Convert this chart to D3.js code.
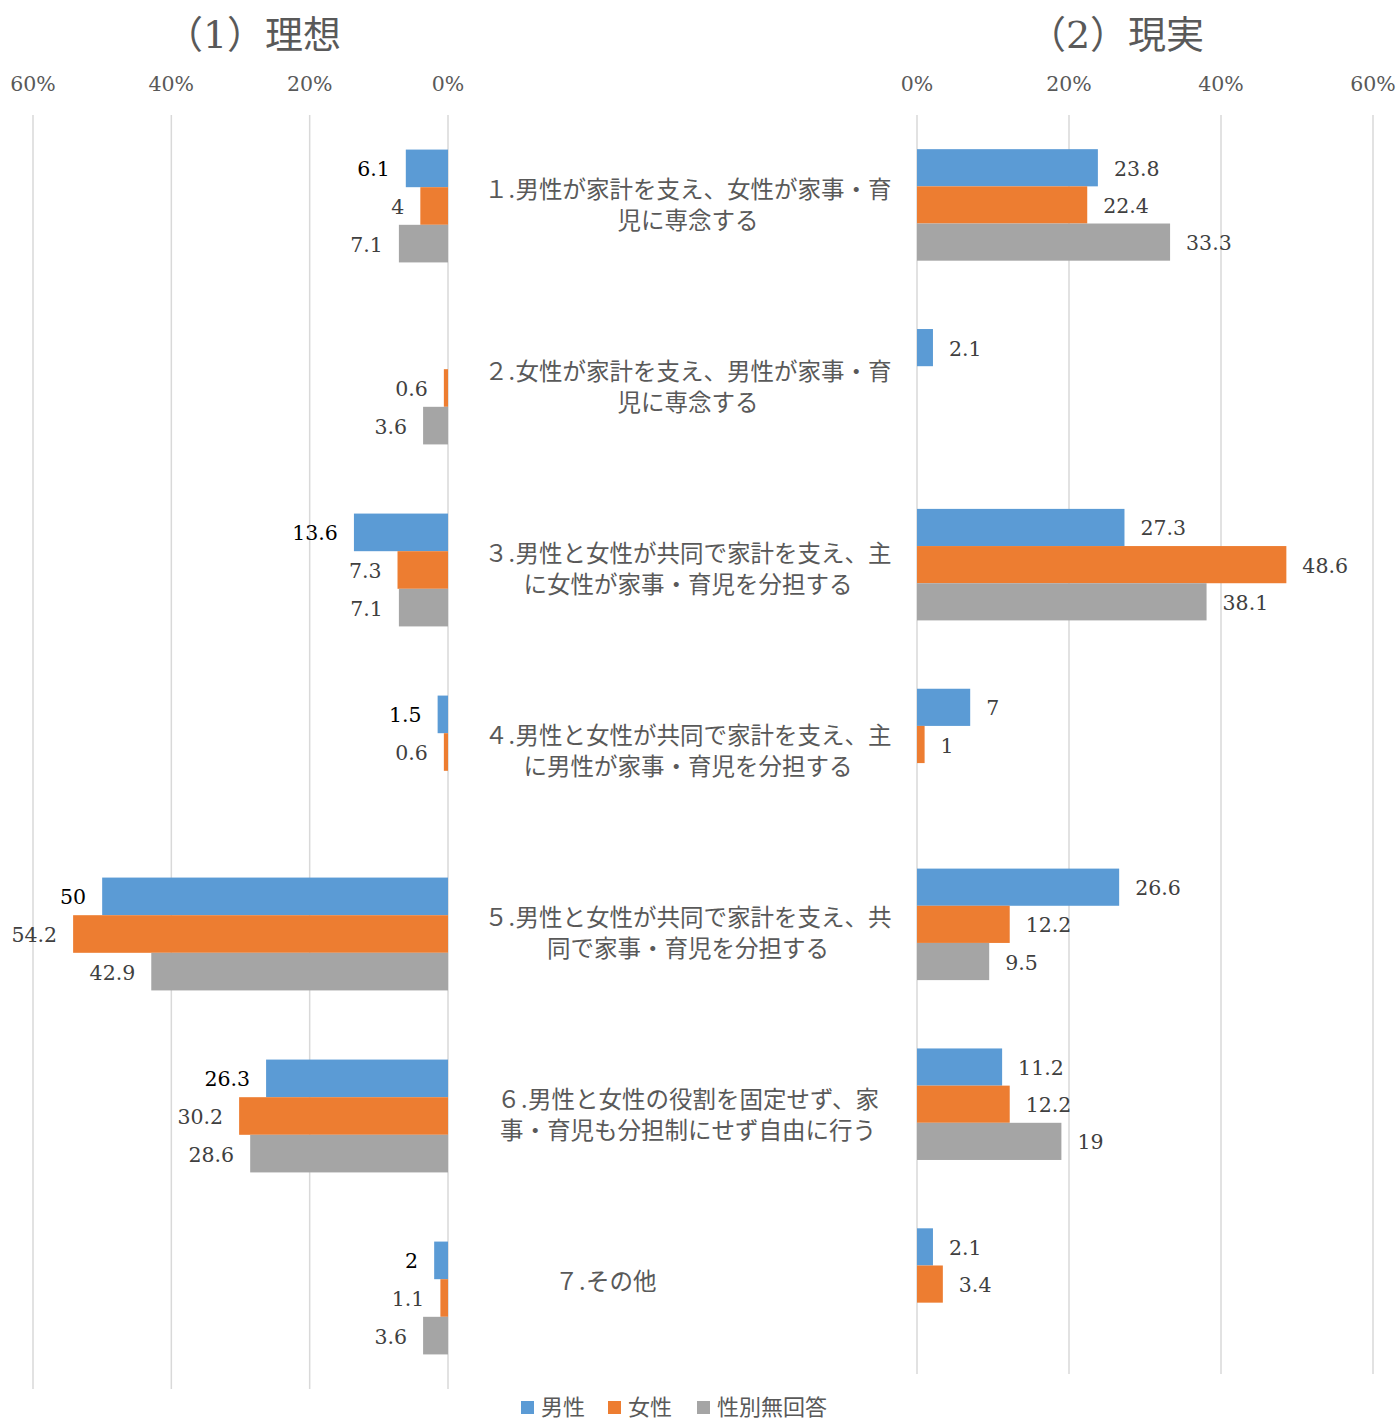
<!DOCTYPE html>
<html>
<head>
<meta charset="utf-8">
<script src="https://cdn.jsdelivr.net/npm/d3@7/dist/d3.min.js"></script>
<style>
  body { margin: 0; background: #fff; }
  svg text { font-family: "DejaVu Serif", "Noto Sans CJK JP", serif; }
</style>
</head>
<body>
<div id="viz"></div>
<script>
const categories = [
    ['１.男性が家計を支え、女性が家事・育', '児に専念する'],
    ['２.女性が家計を支え、男性が家事・育', '児に専念する'],
    ['３.男性と女性が共同で家計を支え、主', 'に女性が家事・育児を分担する'],
    ['４.男性と女性が共同で家計を支え、主', 'に男性が家事・育児を分担する'],
    ['５.男性と女性が共同で家計を支え、共', '同で家事・育児を分担する'],
    ['６.男性と女性の役割を固定せず、家', '事・育児も分担制にせず自由に行う'],
    ['７.その他　　　　　　　', '']
];
const seriesNames = ['男性', '女性', '性別無回答'];
const idealMale   = [6.1, null, 13.6, 1.5, 50, 26.3, 2];
const idealFemale = [4, 0.6, 7.3, 0.6, 54.2, 30.2, 1.1];
const idealNone   = [7.1, 3.6, 7.1, null, 42.9, 28.6, 3.6];
const realMale    = [23.8, 2.1, 27.3, 7, 26.6, 11.2, 2.1];
const realFemale  = [22.4, null, 48.6, 1, 12.2, 12.2, 3.4];
const realNone    = [33.3, null, 38.1, null, 9.5, 19, null];
const ticks = [0, 20, 40, 60];
const titles = ['（1）理想', '（2）現実'];

const colors = ['#5B9BD5', '#ED7D31', '#A5A5A5'];
const width = 1398, height = 1418;
const plotTop = 115;

const svg = d3.select('#viz')
    .append('svg')
    .attr('width', width)
    .attr('height', height);

let xLeft = d3.scaleLinear().domain([0, 60]).range([448, 33]);
let xRight = d3.scaleLinear().domain([0, 60]).range([917, 1373]);

const panels = [
    {x: xLeft, series: [idealMale, idealFemale, idealNone], side: -1, title: titles[0], titleX: 253, bottom: 1389},
    {x: xRight, series: [realMale, realFemale, realNone], side: 1, title: titles[1], titleX: 1116, bottom: 1374}
];

let yLeft;

panels.forEach(p => {
    let yScale = d3.scaleBand()
        .domain(d3.range(categories.length))
        .range([plotTop, p.bottom])
        .paddingInner(0.38)
        .paddingOuter(0.19);
    if (p.side < 0) yLeft = yScale;

    let ySub = d3.scaleBand()
        .domain(d3.range(seriesNames.length))
        .range([0, yScale.bandwidth()]);

    // gridlines
    svg.append('g').selectAll('line').data(ticks)
        .enter().append('line')
        .attr('x1', d => p.x(d)).attr('x2', d => p.x(d))
        .attr('y1', plotTop).attr('y2', p.bottom)
        .attr('stroke', '#d9d9d9')
        .attr('stroke-width', 1.5);

    // tick labels
    svg.append('g').selectAll('text').data(ticks)
        .enter().append('text')
        .attr('x', d => p.x(d))
        .attr('y', 84)
        .attr('text-anchor', 'middle')
        .attr('dominant-baseline', 'central')
        .attr('font-size', 20.5)
        .attr('fill', '#595959')
        .text(d => d + '%');

    svg.append('text')
        .attr('x', p.titleX)
        .attr('y', 35)
        .attr('text-anchor', 'middle')
        .attr('dominant-baseline', 'central')
        .attr('font-size', 38)
        .attr('fill', '#595959')
        .text(p.title);

    p.series.forEach((vals, s) => {
        const g = svg.append('g');
        const rows = vals.map((v, i) => ({v, i})).filter(d => d.v !== null);

        g.selectAll('rect').data(rows)
            .enter().append('rect')
            .attr('x', d => Math.min(p.x(0), p.x(d.v)))
            .attr('width', d => Math.abs(p.x(d.v) - p.x(0)))
            .attr('y', d => yScale(d.i) + ySub(s))
            .attr('height', ySub.bandwidth())
            .attr('fill', colors[s]);

        g.selectAll('text').data(rows)
            .enter().append('text')
            .attr('x', d => p.x(d.v) + p.side * 16)
            .attr('y', d => yScale(d.i) + ySub(s) + ySub.bandwidth() / 2 + 1)
            .attr('text-anchor', p.side < 0 ? 'end' : 'start')
            .attr('dominant-baseline', 'central')
            .attr('font-size', 20.5)
            .attr('fill', (p.side < 0 && s === 0) ? '#000' : '#404040')
            .text(d => d.v);
    });
});

// category labels in the middle
const catG = svg.append('g').selectAll('text').data(categories)
    .enter().append('text')
    .attr('x', 688)
    .attr('y', (d, i) => yLeft(i) + yLeft.bandwidth() / 2)
    .attr('text-anchor', 'middle')
    .attr('font-size', 23.5)
    .attr('fill', '#595959')
    .style('white-space', 'pre');

catG.selectAll('tspan').data(d => d.map((line, k) => ({line, k, n: d.length})))
    .enter().append('tspan')
    .attr('x', 688)
    .attr('dy', d => d.k === 0 ? ((-(d.n - 1) / 2) * 31 + 7) + 'px' : '31px')
    .text(d => d.line);

// legend
const legendX = [521, 608, 697];
const legend = svg.append('g').selectAll('g').data(seriesNames)
    .enter().append('g')
    .attr('transform', (d, i) => `translate(${legendX[i]},1406)`);

legend.append('rect')
    .attr('x', 0).attr('y', -5)
    .attr('width', 13).attr('height', 13)
    .attr('fill', (d, i) => colors[i]);

legend.append('text')
    .attr('x', 20)
    .attr('y', 1)
    .attr('dominant-baseline', 'central')
    .attr('font-size', 22)
    .attr('fill', '#595959')
    .text(d => d);
</script>
</body>
</html>
